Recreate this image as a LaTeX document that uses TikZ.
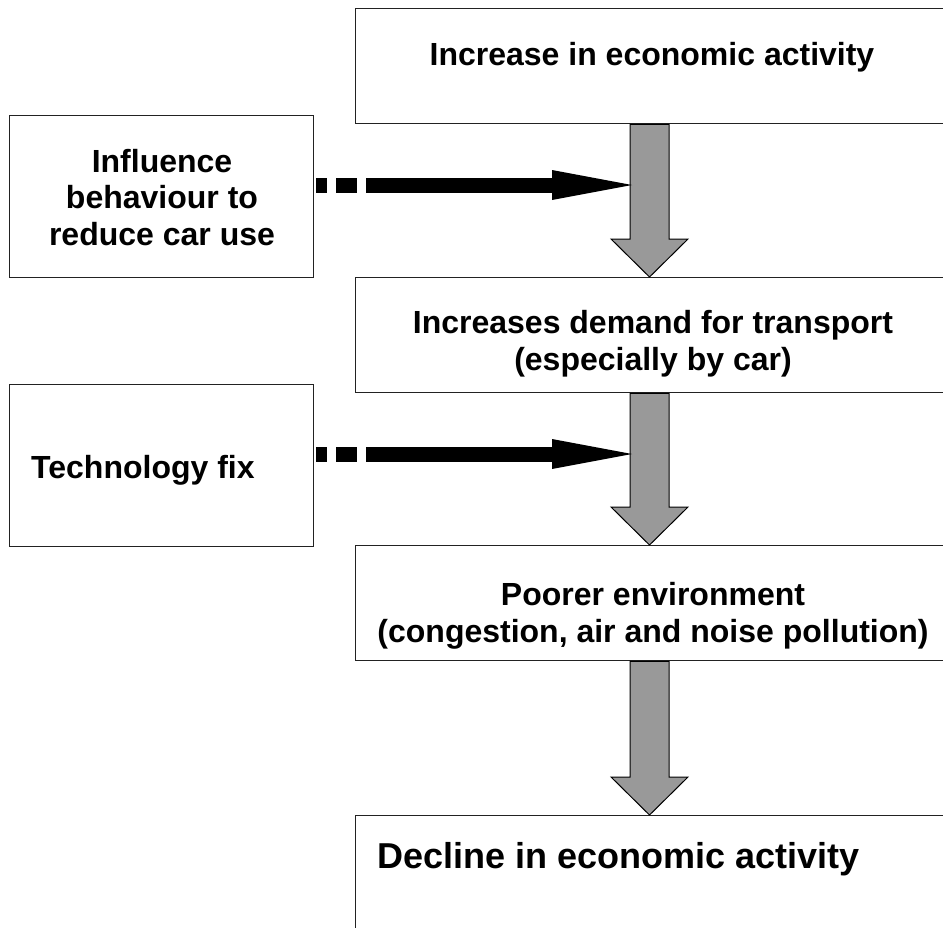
\documentclass[tikz,border=0pt]{standalone}
\usepackage{fontspec}
\setmainfont{Liberation Sans}
\usetikzlibrary{calc}
\definecolor{arrowgray}{HTML}{999999}
\definecolor{boxline}{HTML}{222222}
\newcommand\blockarrow[2]{%
  \draw[grayarr] let \p1=(#1), \p2=(#2) in
    (\x1-19.5pt,\y1) -- (\x1-19.5pt,\y2+38pt) -- (\x1-38.5pt,\y2+38pt) --
    (\x2,\y2) -- (\x1+38.5pt,\y2+38pt) -- (\x1+19.5pt,\y2+38pt) --
    (\x1+19.5pt,\y1) -- cycle;}
\newcommand\influencearrow[3]{%
  \draw[dashline] (#1) -- (#2);
  \fill[black] ($(#2)+(0,-15)$) -- (#3) -- ($(#2)+(0,15)$) -- cycle;}
\begin{document}
\begin{tikzpicture}[x=1pt,y=-1pt,
  box/.style={draw=boxline, line width=1.3pt, fill=white, rectangle, inner sep=0pt, anchor=north west},
  rbox/.style={box, minimum width=595pt, minimum height=115pt},
  lbox/.style={box, minimum width=304pt, minimum height=162pt},
  txt/.style={font=\fontsize{32}{36.5}\selectfont\bfseries, align=center, inner sep=0pt},
  bigtxt/.style={font=\fontsize{36}{40}\selectfont\bfseries, inner sep=0pt},
  grayarr/.style={draw=black, line width=1pt, fill=arrowgray, line join=miter},
  dashline/.style={line width=15pt, line cap=butt, dash pattern=on 11pt off 9pt on 21pt off 9pt on 400pt}]
\useasboundingbox (0,0) rectangle (943,927);
% boxes
\node[rbox] (b1) at (355,8) {};
\node[rbox] (b2) at (355,277) {};
\node[rbox] (b3) at (355,545) {};
\node[rbox, minimum height=140pt] (b4) at (355,815) {};
\node[lbox] (l1) at (9,115) {};
\node[lbox] (l2) at (9,384) {};
% texts
\node[txt, anchor=base] (t1) at (652,65) {Increase in economic activity};
\node[txt, anchor=base] (t2a) at (653,333) {Increases demand for transport};
\node[txt, anchor=base] (t2b) at (653,370) {(especially by car)};
\node[txt, anchor=base] (t3a) at (653,605) {Poorer environment};
\node[txt, anchor=base] (t3b) at (653,642) {(congestion, air and noise pollution)};
\node[bigtxt, anchor=base west] (t4) at (377,868) {Decline in economic activity};
\node[txt, anchor=base] (tl1a) at (162,172) {Influence};
\node[txt, anchor=base] (tl1b) at (162,208) {behaviour to};
\node[txt, anchor=base] (tl1c) at (162,245) {reduce car use};
\node[txt, anchor=base west] (tl2) at (31,478) {Technology fix};
% gray block arrows
\coordinate (ax) at (649.5,0);
\blockarrow{b1.south -| ax}{b2.north -| ax}
\blockarrow{b2.south -| ax}{b3.north -| ax}
\blockarrow{b3.south -| ax}{b4.north -| ax}
% black influence arrows
\coordinate (s1) at (316,185);
\coordinate (h1) at (552,185);
\coordinate (e1) at (632,185);
\coordinate (s2) at (316,454);
\coordinate (h2) at (552,454);
\coordinate (e2) at (632,454);
\influencearrow{s1}{h1}{e1}
\influencearrow{s2}{h2}{e2}
\end{tikzpicture}
\end{document}
